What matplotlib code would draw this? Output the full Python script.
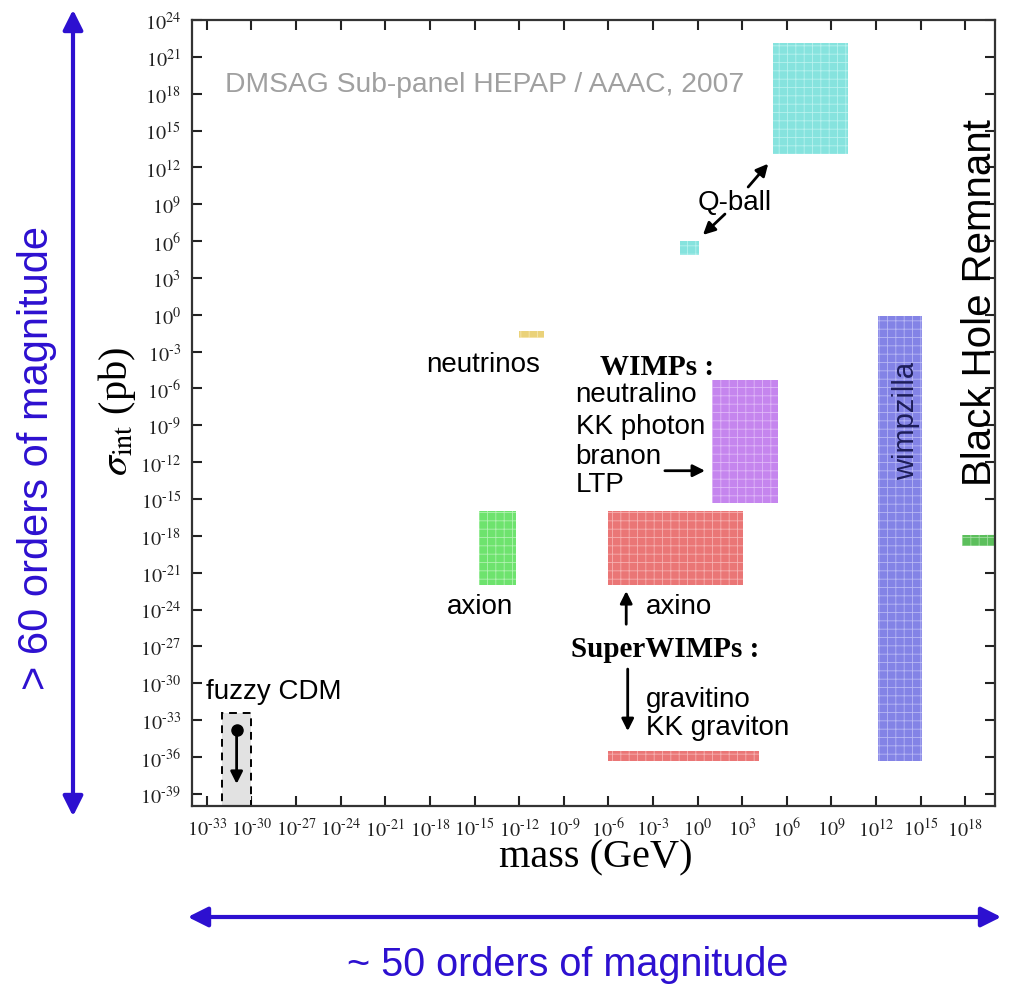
import matplotlib
matplotlib.use("Agg")
import matplotlib.pyplot as plt
from matplotlib.patches import Rectangle, FancyArrowPatch

plt.rcParams['mathtext.fontset'] = 'stix'
plt.rcParams['font.family'] = ['Liberation Sans', 'DejaVu Sans']
plt.rcParams['hatch.linewidth'] = 0.6

# candidate regions, log10 of mass (GeV) and sigma (pb)
names = ['Q-ball big', 'Q-ball small', 'neutrinos', 'WIMPs', 'axion', 'axino',
         'gravitino', 'wimpzilla', 'black hole']
x_lo = [5.1, -1.2, -12.0, 1.0, -14.7, -6.0, -6.0, 12.1, 17.8]
x_hi = [10.1, 0.1, -10.3, 5.4, -12.2, 3.05, 4.1, 15.1, 20.0]
y_lo = [13.1, 4.9, -1.9, -15.3, -22.0, -22.0, -36.3, -36.3, -18.8]
y_hi = [22.1, 6.0, -1.3, -5.3, -16.0, -16.0, -35.5, -0.1, -17.9]
fills = ['#86e3de', '#86e3de', '#ead27a', '#c585ee', '#6ee36e', '#ea7676',
         '#ea7676', '#8383e6', '#5cbf5c']
dots = ['#b8f2ee', '#b8f2ee', '#f6e6b0', '#e0b8f8', '#b0f2b0', '#f6b0b0',
        '#f6b0b0', '#b8b8f4', '#a0dca0']

# fuzzy CDM box (log10)
fuzzy_x = [-32.0, -30.0]
fuzzy_y = [-40.0, -32.4]

x_ticks = list(range(-33, 19, 3))
y_ticks = list(range(-39, 25, 3))

def pow_label(e):
    # short hyphen like the original instead of a long minus
    return r'$10^{%s}$' % str(e).replace('-', '\u2010')

fig = plt.figure(figsize=(10.1, 9.87), dpi=100)
ax = fig.add_axes([192 / 1010, 180 / 987, 803 / 1010, 786 / 987])
ax.set_xscale('log')
ax.set_yscale('log')
ax.set_xlim(1e-34, 1e20)
ax.set_ylim(1e-40, 1e24)

for i in range(len(names)):
    ax.add_patch(Rectangle((10 ** x_lo[i], 10 ** y_lo[i]),
                           10 ** x_hi[i] - 10 ** x_lo[i],
                           10 ** y_hi[i] - 10 ** y_lo[i],
                           facecolor=fills[i], edgecolor=dots[i], lw=0,
                           hatch='++', zorder=2))

ax.add_patch(Rectangle((10 ** fuzzy_x[0], 10 ** fuzzy_y[0]),
                       10 ** fuzzy_x[1] - 10 ** fuzzy_x[0],
                       10 ** fuzzy_y[1] - 10 ** fuzzy_y[0],
                       facecolor='#e2e2e2', edgecolor='black', lw=1.4,
                       ls=(0, (4, 3)), zorder=2))

ax.set_xticks([10.0 ** e for e in x_ticks])
ax.set_xticklabels([pow_label(e) for e in x_ticks])
ax.set_yticks([10.0 ** e for e in y_ticks])
ax.set_yticklabels([pow_label(e) for e in y_ticks])
ax.minorticks_off()
ax.tick_params(direction='in', top=True, right=True, length=7, width=1.5,
               labelsize=14.5, pad=8, colors='#222222')
ax.tick_params(axis='x', labeltop=False)
for s in ax.spines.values():
    s.set_linewidth(1.6)
    s.set_color('#333333')

def T(x, y, s, **kw):
    ax.text(10 ** x, 10 ** y, s, **kw)

def A(x0, y0, x1, y1, **kw):
    ax.annotate('', xy=(10 ** x1, 10 ** y1), xytext=(10 ** x0, 10 ** y0),
                arrowprops=dict(arrowstyle='-|>', color='black', lw=2,
                                mutation_scale=18, shrinkA=0, shrinkB=0), **kw)

T(-31.8, 18.8, 'DMSAG Sub-panel HEPAP / AAAC, 2007', fontsize=20.3,
  color='#a0a0a0', ha='left', va='center')
T(2.5, 9.2, 'Q-ball', fontsize=20, ha='center', va='center')
A(3.4, 10.4, 4.75, 12.3)
A(1.84, 8.2, 0.36, 6.5)
T(-14.4, -4.0, 'neutrinos', fontsize=20, ha='center', va='center')
T(-2.7, -4.2, 'WIMPs :', fontsize=21, ha='center', va='center',
  family='Liberation Serif', fontweight='bold')
for s, yy in zip(['neutralino', 'KK photon', 'branon', 'LTP'],
                 [-6.46, -9.06, -11.5, -13.8]):
    T(-8.2, yy, s, fontsize=20, ha='left', va='center')
A(-2.2, -12.7, 0.5, -12.7)
T(-14.6, -23.7, 'axion', fontsize=20, ha='center', va='center')
T(-3.5, -23.7, 'axino', fontsize=20, ha='left', va='center')
A(-4.8, -25.2, -4.8, -22.5)
T(-2.2, -27.2, 'SuperWIMPs :', fontsize=21, ha='center', va='center',
  family='Liberation Serif', fontweight='bold')
A(-4.7, -28.85, -4.7, -33.9)
T(-3.47, -31.3, 'gravitino', fontsize=20, ha='left', va='center')
T(-3.47, -33.6, 'KK graviton', fontsize=20, ha='left', va='center')
T(14.0, -8.6, 'wimpzilla', fontsize=21, ha='center', va='center',
  rotation=90, color='#1e1e5a')
T(19.75, 1.1, 'Black Hole Remnant', fontsize=29, ha='center', va='baseline',
  rotation=90, rotation_mode='anchor')
T(-28.5, -30.6, 'fuzzy CDM', fontsize=20, ha='center', va='center')
A(-31.0, -33.8, -31.0, -38.2)
ax.plot([10 ** -31.0], [10 ** -33.8], 'o', color='black', ms=8, zorder=5)

fig.text(596 / 1010, 1 - 858 / 987, 'mass (GeV)', fontsize=29,
         family='Liberation Serif', ha='center', va='center')
fig.text(117 / 1010, 1 - 412 / 987, r'$\sigma_{\rm int}$ (pb)', fontsize=29,
         family='Liberation Serif', ha='center', va='center', rotation=90)

blue = '#2d10d0'
fig.patches.append(FancyArrowPatch((73 / 1010, 1 - 8 / 987), (73 / 1010, 1 - 820 / 987),
                                   transform=fig.transFigure, arrowstyle='<|-|>',
                                   mutation_scale=30, lw=3, color=blue))
fig.patches.append(FancyArrowPatch((185 / 1010, 1 - 918 / 987), (1004 / 1010, 1 - 918 / 987),
                                   transform=fig.transFigure, arrowstyle='<|-|>',
                                   mutation_scale=30, lw=3, color=blue))
fig.text(37 / 1010, 1 - 458 / 987, '> 60 orders of magnitude', fontsize=30,
         color=blue, ha='center', va='center', rotation=90)
fig.text(568 / 1010, 1 - 965 / 987, '~ 50 orders of magnitude', fontsize=28.5,
         color=blue, ha='center', va='center')

fig.savefig('out.png', dpi=100)
